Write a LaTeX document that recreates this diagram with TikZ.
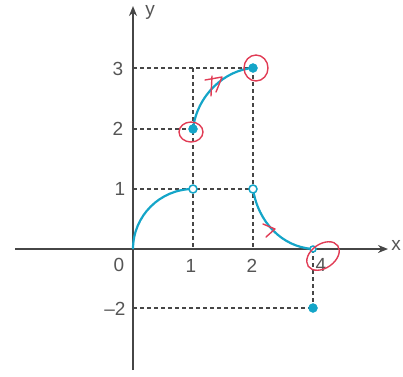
\documentclass[tikz,border=0pt]{standalone}
\usepackage{fontspec}
\setmainfont{Liberation Sans}
\usetikzlibrary{arrows.meta}
\definecolor{axisgray}{RGB}{70,70,70}
\definecolor{labelgray}{RGB}{85,85,85}
\definecolor{curvecyan}{RGB}{20,165,200}
\definecolor{annot}{RGB}{225,60,85}
\begin{document}
\begin{tikzpicture}[x=1pt,y=-1pt,
  axisline/.style={axisgray,line width=2pt,-{Stealth[length=10pt,width=8pt]}},
  guide/.style={axisgray,line width=1.6pt,dash pattern=on 3.5pt off 3.5pt},
  curveline/.style={curvecyan,line width=2.2pt},
  fdot/.style={circle,fill=curvecyan,draw=curvecyan,inner sep=0pt,minimum size=9pt},
  odot/.style={circle,fill=white,draw=curvecyan,line width=1.5pt,inner sep=0pt,minimum size=8pt},
  lbl/.style={text=labelgray,font=\fontsize{19}{21}\selectfont,inner sep=0pt},
  redmark/.style={annot,line width=1.4pt,line cap=round,line join=round}]
\useasboundingbox (0,0) rectangle (403,376);
% named points
\coordinate (O) at (133,249);
\coordinate (xs) at (15,249);
\coordinate (xe) at (388,249);
\coordinate (ys) at (133,370);
\coordinate (ye) at (133,6);
\coordinate (y3) at (133,68);
\coordinate (y2) at (133,129);
\coordinate (y1) at (133,189);
\coordinate (ym2) at (133,308);
\coordinate (x1) at (193,249);
\coordinate (x2) at (253,249);
\coordinate (t1) at (193,68);
% guides
\draw[guide] (y3) -- (253,68);
\draw[guide] (y2) -- (193,129);
\draw[guide] (y1) -- (253,189);
\draw[guide] (t1) -- (x1);
\draw[guide] (253,68) -- (x2);
\draw[guide] (313,249) -- (313,308);
\draw[guide] (ym2) -- (313,308);
% axes
\draw[axisline] (xs) -- (xe);
\draw[axisline] (ys) -- (ye);
% curves
\draw[curveline] (O) .. controls (133,216) and (160,189) .. (193,189);
\draw[curveline] (193,129) .. controls (197,95) and (225,70) .. (253,68);
\draw[curveline] (253,189) .. controls (258,222) and (282,247) .. (313,249);
% dots
\node[odot] (p1) at (193,189) {};
\node[fdot] (p2) at (193,129) {};
\node[fdot] (p3) at (253,68) {};
\node[odot] (p4) at (253,189) {};
\node[odot,minimum size=6pt] (p5) at (313,249) {};
\node[fdot] (p6) at (313,308) {};
% labels
\node[lbl] (l3) at (118,69) {3};
\node[lbl] (l2) at (118,129) {2};
\node[lbl] (l1) at (120,189) {1};
\node[lbl] (lm2) at (115,309) {\textendash2};
\node[lbl] (l0) at (119,265) {0};
\node[lbl] (lx1) at (191,266) {1};
\node[lbl] (lx2) at (252,266) {2};
\node[lbl] (lx4) at (321,265) {4};
\node[lbl] (lx) at (396,245) {x};
\node[lbl] (ly) at (150,12) {y};
% red annotations
\draw[redmark] (191,132) ellipse [x radius=12pt,y radius=10pt];
\draw[redmark] (256,68) ellipse [x radius=12pt,y radius=13pt];
\draw[redmark,rotate around={35:(323,256)}] (323,256) ellipse [x radius=18pt,y radius=12pt];
\draw[redmark] (205,80) -- (222,77) -- (216,92);
\draw[redmark] (212,76) -- (211,96);
\draw[redmark] (263,224) -- (275,229) -- (266,237);
\end{tikzpicture}
\end{document}
